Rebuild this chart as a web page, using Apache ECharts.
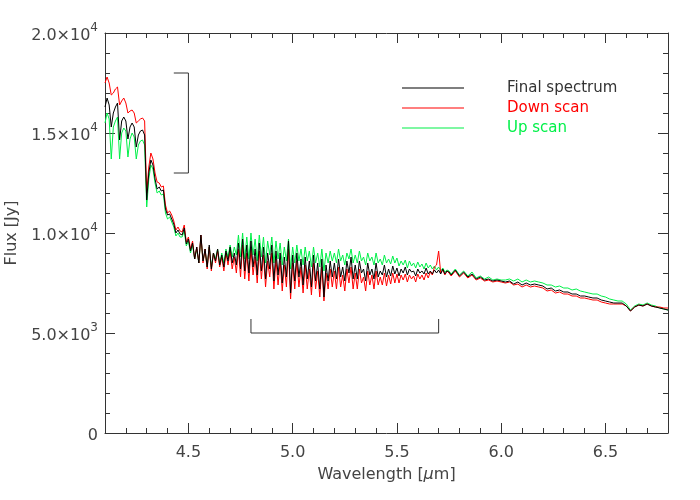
<!DOCTYPE html>
<html><head><meta charset="utf-8">
<script src="https://cdn.jsdelivr.net/npm/echarts@6/dist/echarts.min.js"></script>
<style>html,body{margin:0;padding:0;background:#fff}#c{width:700px;height:500px}</style>
</head><body><div id="c"></div>
<script>
// Wavelength grid (micron)
const lam = [
4.10,4.11,4.12,4.13,4.14,4.15,4.16,4.17,4.18,4.19,
4.20,4.21,4.22,4.23,4.24,4.25,4.26,4.27,4.28,4.29,
4.30,4.31,4.32,4.33,4.34,4.35,4.36,4.37,4.38,4.39,
4.40,4.41,4.42,4.43,4.44,4.45,4.46,4.47,4.48,4.49,
4.50,4.51,4.52,4.53,4.54,4.55,4.56,4.57,4.58,4.59,
4.60,4.61,4.62,4.63,4.64,4.65,4.66,4.67,4.68,4.69,
4.70,4.71,4.72,4.73,4.74,4.75,4.76,4.77,4.78,4.79,
4.80,4.81,4.82,4.83,4.84,4.85,4.86,4.87,4.88,4.89,
4.90,4.91,4.92,4.93,4.94,4.95,4.96,4.97,4.98,4.99,
5.00,5.01,5.02,5.03,5.04,5.05,5.06,5.07,5.08,5.09,
5.10,5.11,5.12,5.13,5.14,5.15,5.16,5.17,5.18,5.19,
5.20,5.21,5.22,5.23,5.24,5.25,5.26,5.27,5.28,5.29,
5.30,5.31,5.32,5.33,5.34,5.35,5.36,5.37,5.38,5.39,
5.40,5.41,5.42,5.43,5.44,5.45,5.46,5.47,5.48,5.49,
5.50,5.51,5.52,5.53,5.54,5.55,5.56,5.57,5.58,5.59,
5.60,5.61,5.62,5.63,5.64,5.65,5.66,5.67,5.68,5.69,
5.70,5.71,5.72,5.73,5.74,5.75,
5.76,5.78,5.80,5.82,5.84,5.86,5.88,5.90,5.92,5.94,
5.96,5.98,6.00,6.02,6.04,6.06,6.08,6.10,6.12,6.14,
6.16,6.18,6.20,6.22,6.24,6.26,6.28,6.30,6.32,6.34,
6.36,6.38,6.40,6.42,6.44,6.46,6.48,6.50,6.52,6.54,
6.56,6.58,6.60,6.62,6.64,6.66,6.68,6.70,6.72,6.74,
6.76,6.78,6.80];

// Final spectrum flux (Jy)
const fluxFinal = [
16300,16750,16400,15300,16000,16300,16500,14650,15600,15800,
15600,14700,15300,15500,15300,14300,14900,15100,15150,14900,
11650,13000,13650,13400,12700,12200,12300,12100,12150,11200,
10900,10950,10700,10450,10000,10150,9950,9900,10250,9450,
9700,9100,9500,8700,9300,8500,9900,8600,9200,8300,
9400,8200,9000,8600,9200,8400,8900,8300,9100,8600,
9300,8500,9000,8400,9500,8200,9700,8100,9400,8000,
9600,8300,9200,7900,9500,8100,9300,7700,9000,8200,
9400,7600,9100,7900,9000,7500,8800,7800,9600,7000,
8900,7600,9000,7800,8700,7400,8800,7700,8600,7300,
8900,7600,8500,7200,8700,6800,8400,7600,8600,7800,
8500,7700,8700,7800,8300,7600,8600,8000,8800,7700,
8400,7700,8600,8000,8200,7600,8500,7900,8200,7700,
8500,7800,8100,7900,8400,7800,8200,7850,8350,7950,
8250,7850,8200,8000,8300,7900,8200,8050,8100,7850,
8200,8000,8100,7950,8250,7950,8100,7950,8150,8000,
8150,7950,8200,7950,8100,8050,
7900,8150,7850,8050,7800,7950,7700,7800,7650,7700,
7600,7650,7600,7550,7600,7450,7550,7400,7500,7400,
7450,7400,7350,7200,7250,7100,7150,7050,7050,6950,
6950,6850,6850,6800,6750,6750,6650,6600,6550,6500,
6500,6500,6350,6100,6300,6400,6350,6450,6350,6300,
6250,6200,6150];

// Down scan flux (Jy)
const fluxDown = [
17500,17800,17500,16900,17000,17200,17300,16400,16600,16750,
16500,16000,16100,16150,16000,15500,15600,15700,15750,15600,
12000,13300,14000,13700,13000,12550,12500,12300,12350,11400,
11000,11100,10900,10600,10150,10300,10100,10050,10400,9550,
9800,9200,9600,8700,9300,8500,9900,8500,9200,8200,
9300,8100,9000,8500,9100,8300,8800,8100,9000,8400,
9100,8200,8800,8000,9200,7800,9400,7700,9000,7600,
9200,7900,8800,7500,9100,7700,8900,7300,8600,7800,
9000,7200,8700,7400,8600,7100,8400,7300,9200,6700,
8500,7200,8600,7300,8300,7000,8400,7200,8200,6900,
8500,7200,8100,6800,8300,6600,8000,7200,8200,7300,
8100,7200,8300,7300,7900,7100,8200,7500,8300,7200,
8000,7200,8200,7500,7800,7100,8100,7400,7900,7200,
8100,7400,7800,7400,8000,7350,7900,7450,8000,7500,
7950,7500,7900,7650,7950,7550,7900,7700,7850,7550,
7950,7700,7900,7650,8000,7750,8050,7900,8300,8400,
9100,8000,8150,7900,8100,8000,
7850,8100,7800,8000,7750,7900,7650,7750,7600,7650,
7550,7600,7550,7500,7550,7400,7450,7300,7400,7300,
7350,7300,7250,7100,7150,7000,7050,6950,6950,6850,
6850,6750,6750,6700,6650,6650,6550,6500,6450,6450,
6450,6450,6350,6100,6300,6400,6350,6450,6350,6300,
6300,6250,6250];

// Up scan flux (Jy)
const fluxUp = [
15500,16000,15700,13700,15300,15600,15800,13700,15000,15250,
15100,13800,14700,15000,14800,13700,14400,14600,14650,14400,
11300,12700,13400,13200,12500,12000,12100,11900,11950,11000,
10700,10800,10550,10300,9850,10000,9800,9800,10100,9350,
9600,9000,9400,8700,9200,8500,9800,8600,9100,8300,
9300,8300,9000,8700,9200,8500,9000,8500,9200,8800,
9400,8800,9300,8900,9900,8800,10000,8700,9800,8700,
10000,8900,9700,8600,9900,8800,9800,8500,9600,8900,
9800,8500,9600,8700,9500,8400,9300,8600,9700,8200,
9300,8500,9400,8600,9200,8400,9300,8600,9100,8300,
9300,8500,9000,8300,9200,8100,9000,8500,9100,8600,
9000,8500,9200,8600,8900,8400,9000,8700,9200,8500,
8900,8500,9100,8600,8800,8400,9000,8600,8800,8400,
9000,8500,8700,8400,8900,8500,8700,8450,8850,8500,
8750,8350,8600,8400,8650,8250,8600,8350,8500,8250,
8550,8300,8450,8200,8500,8250,8400,8200,8350,8150,
8300,8100,8250,8050,8150,8100,
7950,8200,7900,8100,7850,8050,7750,7850,7700,7800,
7650,7700,7650,7650,7700,7600,7700,7550,7650,7550,
7600,7550,7500,7400,7400,7300,7350,7250,7250,7150,
7200,7100,7050,7000,6950,6950,6850,6800,6700,6650,
6600,6600,6450,6150,6350,6450,6400,6500,6400,6350,
6250,6200,6150];

const seriesNames = ['Final spectrum', 'Down scan', 'Up scan'];
const xMajorTicks = [4.5, 5.0, 5.5, 6.0, 6.5];

// Bracket annotations (data units)
const bracketVX = [4.43, 4.5, 4.5, 4.43];
const bracketVY = [18000, 18000, 13000, 13000];
const bracketHX = [4.8, 4.8, 5.7, 5.7];
const bracketHY = [5700, 5000, 5000, 5700];

const pairs = (xs, ys) => xs.map((x, i) => [x, ys[i]]);
const FONT = 'DejaVu Sans';
const TXT = '#444';
const AX = '#333';
const C_BLACK = '#000000', C_RED = '#ff0000', C_GREEN = '#00f048';

function yFmt(v) {
  if (v === 0) return '{m|0}';
  const e = Math.floor(Math.log10(v) + 1e-9);
  const m = (v / Math.pow(10, e)).toFixed(1);
  return '{m|' + m + '×10}{s|' + e + '}';
}

const chart = echarts.init(document.getElementById('c'), null, {renderer: 'canvas'});
const xBase = {type: 'value', min: 4.1, max: 6.8, splitLine: {show: false}};
const option = {
  animation: false,
  backgroundColor: '#fff',
  textStyle: {fontFamily: FONT},
  grid: {left: 105, right: 32, top: 33, bottom: 67, containLabel: false, outerBoundsMode: 'none'},
  legend: {
    data: [
      {name: 'Final spectrum', textStyle: {color: '#333'}},
      {name: 'Down scan', textStyle: {color: C_RED}},
      {name: 'Up scan', textStyle: {color: C_GREEN}}
    ],
    orient: 'vertical', left: 397, top: 73,
    icon: 'rect', itemWidth: 62, itemHeight: 1, itemGap: 0,
    textStyle: {fontFamily: FONT, fontSize: 15, lineHeight: 20, padding: [0, 0, 0, 38]},
    selectedMode: false
  },
  xAxis: [
    Object.assign({}, xBase, {
      position: 'bottom',
      axisLine: {show: true, onZero: false, lineStyle: {color: AX, width: 1}},
      axisTick: {show: true, inside: true, length: 10, customValues: xMajorTicks, lineStyle: {color: AX}},
      axisLabel: {show: true, customValues: xMajorTicks, formatter: v => v.toFixed(1), margin: 12,
        fontSize: 16, color: TXT, fontFamily: FONT},
      name: 'Wavelength [{i|μ}m]', nameLocation: 'middle', nameGap: 34,
      nameTextStyle: {fontSize: 16, color: TXT, fontFamily: FONT,
        rich: {i: {fontStyle: 'italic', fontSize: 16, color: TXT, fontFamily: FONT}}}
    }),
    Object.assign({}, xBase, {
      position: 'bottom', interval: 0.1,
      axisLine: {show: false, onZero: false},
      axisTick: {show: true, inside: true, length: 5, lineStyle: {color: AX}},
      axisLabel: {show: false}
    }),
    Object.assign({}, xBase, {
      position: 'top',
      axisLine: {show: true, onZero: false, lineStyle: {color: AX, width: 1}},
      axisTick: {show: true, inside: true, length: 10, customValues: xMajorTicks, lineStyle: {color: AX}},
      axisLabel: {show: false}
    }),
    Object.assign({}, xBase, {
      position: 'top', interval: 0.1,
      axisLine: {show: false, onZero: false},
      axisTick: {show: true, inside: true, length: 5, lineStyle: {color: AX}},
      axisLabel: {show: false}
    })
  ],
  yAxis: [
    {
      type: 'value', min: 0, max: 20000, interval: 5000, position: 'left',
      splitLine: {show: false},
      axisLine: {show: true, onZero: false, lineStyle: {color: AX, width: 1}},
      axisTick: {show: true, inside: true, length: 10, lineStyle: {color: AX}},
      minorTick: {show: true, splitNumber: 5, length: 5, lineStyle: {color: AX}},
      axisLabel: {
        show: true, margin: 7, formatter: yFmt,
        rich: {
          m: {fontSize: 16, color: TXT, fontFamily: FONT, lineHeight: 22, verticalAlign: 'bottom'},
          s: {fontSize: 12, color: TXT, fontFamily: FONT, lineHeight: 12, verticalAlign: 'top'}
        }
      },
      name: 'Flux [Jy]', nameLocation: 'middle', nameGap: 85, nameRotate: 90,
      nameTextStyle: {fontSize: 16, color: TXT, fontFamily: FONT}
    },
    {
      type: 'value', min: 0, max: 20000, interval: 5000, position: 'right',
      splitLine: {show: false},
      axisLine: {show: true, onZero: false, lineStyle: {color: AX, width: 1}},
      axisTick: {show: true, inside: true, length: 10, lineStyle: {color: AX}},
      minorTick: {show: true, splitNumber: 5, length: 5, lineStyle: {color: AX}},
      axisLabel: {show: false}
    }
  ],
  series: [
    {name: 'Up scan', type: 'line', data: pairs(lam, fluxUp), symbol: 'none',
      lineStyle: {color: C_GREEN, width: 1}, itemStyle: {color: C_GREEN}, silent: true, z: 2},
    {name: 'Down scan', type: 'line', data: pairs(lam, fluxDown), symbol: 'none',
      lineStyle: {color: C_RED, width: 1}, itemStyle: {color: C_RED}, silent: true, z: 3},
    {name: 'Final spectrum', type: 'line', data: pairs(lam, fluxFinal), symbol: 'none',
      lineStyle: {color: C_BLACK, width: 1}, itemStyle: {color: C_BLACK}, silent: true, z: 4},
    {name: 'bracketV', type: 'line', data: pairs(bracketVX, bracketVY), symbol: 'none',
      lineStyle: {color: AX, width: 1}, silent: true, z: 5},
    {name: 'bracketH', type: 'line', data: pairs(bracketHX, bracketHY), symbol: 'none',
      lineStyle: {color: AX, width: 1}, silent: true, z: 5}
  ]
};
chart.setOption(option);
</script>
</body></html>
